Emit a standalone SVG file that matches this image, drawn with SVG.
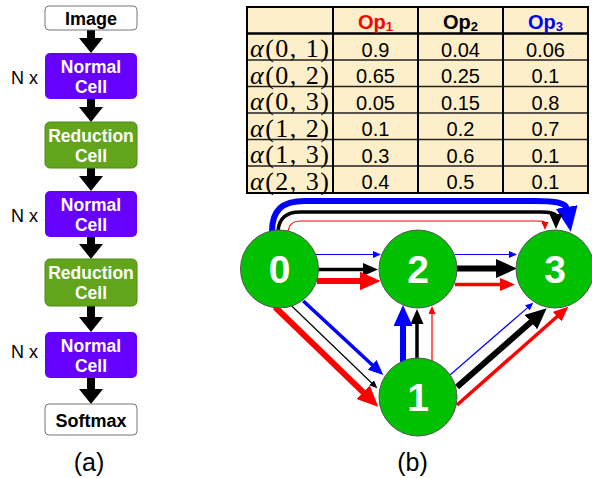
<svg xmlns="http://www.w3.org/2000/svg" width="592" height="478" viewBox="0 0 592 478">
<style>
.wt{fill:#fff;font-family:"Liberation Sans",Arial,sans-serif;font-weight:bold;font-size:17.5px;text-anchor:middle}
.bt{fill:#000;font-family:"Liberation Sans",Arial,sans-serif;font-weight:bold;font-size:18px;text-anchor:middle}
.nx{fill:#000;font-family:"Liberation Sans",Arial,sans-serif;font-size:18px}
.cap{fill:#000;font-family:"Liberation Sans",Arial,sans-serif;font-size:25px;text-anchor:middle}
.num{fill:#000;font-family:"Liberation Sans",Arial,sans-serif;font-size:20px;text-anchor:middle}
.hd{font-family:"Liberation Sans",Arial,sans-serif;font-weight:bold;font-size:20px;text-anchor:middle}
.al{fill:#000;font-family:"Liberation Serif","Times New Roman",serif;font-size:26px}
.node circle{fill:#00C000;stroke:#555;stroke-width:1}
.node text{fill:#fff;font-family:"Liberation Sans",Arial,sans-serif;font-weight:bold;font-size:39px;text-anchor:middle}
.e{fill:none}
.r{stroke:#FF0000}.k{stroke:#000}.b{stroke:#0000FF}
.L{stroke-width:6}.M{stroke-width:3.5}.S{stroke-width:1.2}
.blk{fill:#000}
</style>
<defs>
<marker id="rL" markerUnits="userSpaceOnUse" markerWidth="21" markerHeight="19" refX="2" refY="9.5" orient="auto"><path d="M0,0 L21,9.5 L0,19 z" fill="#FF0000"/></marker>
<marker id="kL" markerUnits="userSpaceOnUse" markerWidth="21" markerHeight="19" refX="2" refY="9.5" orient="auto"><path d="M0,0 L21,9.5 L0,19 z" fill="#000"/></marker>
<marker id="bL" markerUnits="userSpaceOnUse" markerWidth="21" markerHeight="19" refX="2" refY="9.5" orient="auto"><path d="M0,0 L21,9.5 L0,19 z" fill="#0000FF"/></marker>
<marker id="bXL" markerUnits="userSpaceOnUse" markerWidth="25" markerHeight="22" refX="2" refY="11" orient="auto"><path d="M0,0 L25,11 L0,22 z" fill="#0000FF"/></marker>
<marker id="rM" markerUnits="userSpaceOnUse" markerWidth="15" markerHeight="13" refX="2" refY="6.5" orient="auto"><path d="M0,0 L15,6.5 L0,13 z" fill="#FF0000"/></marker>
<marker id="kM" markerUnits="userSpaceOnUse" markerWidth="15" markerHeight="13" refX="2" refY="6.5" orient="auto"><path d="M0,0 L15,6.5 L0,13 z" fill="#000"/></marker>
<marker id="bM" markerUnits="userSpaceOnUse" markerWidth="15" markerHeight="13" refX="2" refY="6.5" orient="auto"><path d="M0,0 L15,6.5 L0,13 z" fill="#0000FF"/></marker>
<marker id="rS" markerUnits="userSpaceOnUse" markerWidth="8" markerHeight="7" refX="2" refY="3.5" orient="auto"><path d="M0,0 L8,3.5 L0,7 z" fill="#FF0000"/></marker>
<marker id="kS" markerUnits="userSpaceOnUse" markerWidth="8" markerHeight="7" refX="2" refY="3.5" orient="auto"><path d="M0,0 L8,3.5 L0,7 z" fill="#000"/></marker>
<marker id="bS" markerUnits="userSpaceOnUse" markerWidth="8" markerHeight="7" refX="2" refY="3.5" orient="auto"><path d="M0,0 L8,3.5 L0,7 z" fill="#0000FF"/></marker>
</defs>
<rect width="592" height="478" fill="#fff"/>

<!-- (a) panel -->
<g id="flow-arrows">
<polygon class="blk" points="87,30 95,30 95,38 103,38 91,53 79,38 87,38"/>
<polygon class="blk" points="87,99 95,99 95,107 103,107 91,122 79,107 87,107"/>
<polygon class="blk" points="87,168 95,168 95,176 103,176 91,191 79,176 87,176"/>
<polygon class="blk" points="87,237 95,237 95,244 103,244 91,259 79,244 87,244"/>
<polygon class="blk" points="87,306 95,306 95,317 103,317 91,332 79,317 87,317"/>
<polygon class="blk" points="87,378 95,378 95,389 103,389 91,404 79,389 87,389"/>
</g>
<g id="image"><rect x="45" y="6" width="92" height="24" rx="4" fill="#fff" stroke="#777"/><text class="bt" x="91" y="25">Image</text></g>
<g id="normal1"><rect x="45" y="53" width="92" height="46" rx="5" fill="#6600FF"/><text class="wt" x="91" y="73">Normal</text><text class="wt" x="91" y="93">Cell</text><text class="nx" x="11" y="84">N x</text></g>
<g id="reduction1"><rect x="45" y="122" width="92" height="46" rx="5" fill="#62A51C" stroke="#4E8A14"/><text class="wt" x="91" y="142">Reduction</text><text class="wt" x="91" y="162">Cell</text></g>
<g id="normal2"><rect x="45" y="191" width="92" height="46" rx="5" fill="#6600FF"/><text class="wt" x="91" y="211">Normal</text><text class="wt" x="91" y="231">Cell</text><text class="nx" x="11" y="222">N x</text></g>
<g id="reduction2"><rect x="45" y="259" width="92" height="47" rx="5" fill="#62A51C" stroke="#4E8A14"/><text class="wt" x="91" y="279">Reduction</text><text class="wt" x="91" y="299">Cell</text></g>
<g id="normal3"><rect x="45" y="332" width="92" height="46" rx="5" fill="#6600FF"/><text class="wt" x="91" y="352">Normal</text><text class="wt" x="91" y="372">Cell</text><text class="nx" x="11" y="358">N x</text></g>
<g id="softmax"><rect x="45" y="404" width="92" height="31" rx="4" fill="#fff" stroke="#777"/><text class="bt" x="91" y="427">Softmax</text></g>
<text class="cap" x="89" y="471">(a)</text>

<!-- table -->
<g id="table">
<rect x="247" y="7" width="341" height="186" fill="#FDEFC9"/>
<g stroke="#222" stroke-width="1.5">
<line x1="247" y1="60" x2="588" y2="60"/>
<line x1="247" y1="86.5" x2="588" y2="86.5"/>
<line x1="247" y1="113" x2="588" y2="113"/>
<line x1="247" y1="139.5" x2="588" y2="139.5"/>
<line x1="247" y1="166" x2="588" y2="166"/>
</g>
<g stroke="#000" stroke-width="2" fill="none">
<line x1="247" y1="33.5" x2="588" y2="33.5" stroke-width="2.5"/>
<line x1="333" y1="7" x2="333" y2="193"/>
<line x1="418" y1="7" x2="418" y2="193"/>
<line x1="503" y1="7" x2="503" y2="193"/>
<rect x="247" y="7" width="341" height="186"/>
</g>
<text class="hd" x="375.5" y="29" fill="#FF0000">Op<tspan font-size="13" dy="2">1</tspan></text>
<text class="hd" x="460.5" y="29" fill="#000">Op<tspan font-size="13" dy="2">2</tspan></text>
<text class="hd" x="545.5" y="29" fill="#0000FF">Op<tspan font-size="13" dy="2">3</tspan></text>
<text class="al" x="250" y="57" textLength="79" lengthAdjust="spacing"><tspan font-style="italic">α</tspan>(0, 1)</text>
<text class="al" x="250" y="83.5" textLength="79" lengthAdjust="spacing"><tspan font-style="italic">α</tspan>(0, 2)</text>
<text class="al" x="250" y="110" textLength="79" lengthAdjust="spacing"><tspan font-style="italic">α</tspan>(0, 3)</text>
<text class="al" x="250" y="136.5" textLength="79" lengthAdjust="spacing"><tspan font-style="italic">α</tspan>(1, 2)</text>
<text class="al" x="250" y="163" textLength="79" lengthAdjust="spacing"><tspan font-style="italic">α</tspan>(1, 3)</text>
<text class="al" x="250" y="189.5" textLength="79" lengthAdjust="spacing"><tspan font-style="italic">α</tspan>(2, 3)</text>
<text class="num" x="375.5" y="56.5">0.9</text><text class="num" x="460.5" y="56.5">0.04</text><text class="num" x="545.5" y="56.5">0.06</text>
<text class="num" x="375.5" y="83">0.65</text><text class="num" x="460.5" y="83">0.25</text><text class="num" x="545.5" y="83">0.1</text>
<text class="num" x="375.5" y="109.5">0.05</text><text class="num" x="460.5" y="109.5">0.15</text><text class="num" x="545.5" y="109.5">0.8</text>
<text class="num" x="375.5" y="136">0.1</text><text class="num" x="460.5" y="136">0.2</text><text class="num" x="545.5" y="136">0.7</text>
<text class="num" x="375.5" y="162.5">0.3</text><text class="num" x="460.5" y="162.5">0.6</text><text class="num" x="545.5" y="162.5">0.1</text>
<text class="num" x="375.5" y="189">0.4</text><text class="num" x="460.5" y="189">0.5</text><text class="num" x="545.5" y="189">0.1</text>
</g>

<!-- connectors -->
<g id="connectors">
<path class="e b L" d="M272,232 C272,210 282,201 305,201 L535,201 C556,201 566,203 567,209" marker-end="url(#bXL)"/>
<path class="e k M" d="M278,231 C279,218 287,212 300,212 L540,212 C551,212 556,214 556,216" marker-end="url(#kM)"/>
<path class="e r S" d="M288,231 C289,224 293,221 300,221 L538,221 C543,221 545,221 545,224" marker-end="url(#rS)"/>

<line class="e b S" x1="316" y1="254.5" x2="375" y2="254.5" marker-end="url(#bS)"/>
<line class="e k M" x1="318" y1="269.5" x2="365" y2="269.5" marker-end="url(#kM)"/>
<line class="e r L" x1="317" y1="281" x2="361.5" y2="281" marker-end="url(#rL)"/>

<line class="e b S" x1="455" y1="254.5" x2="511" y2="254.5" marker-end="url(#bS)"/>
<line class="e k L" x1="457" y1="268.5" x2="498" y2="268.5" marker-end="url(#kL)"/>
<line class="e r M" x1="455" y1="284.5" x2="502" y2="284.5" marker-end="url(#rM)"/>

<line class="e b L" x1="403" y1="362" x2="403" y2="324" marker-end="url(#bL)"/>
<line class="e k M" x1="417" y1="359" x2="417" y2="322" marker-end="url(#kM)"/>
<line class="e r S" x1="432" y1="362" x2="432" y2="312" marker-end="url(#rS)"/>

<line class="e b S" x1="450" y1="375" x2="528.8" y2="306.6" marker-end="url(#bS)"/>
<line class="e k L" x1="457" y1="387" x2="532.4" y2="320.8" marker-end="url(#kL)"/>
<line class="e r M" x1="457" y1="405" x2="558.6" y2="315.3" marker-end="url(#rM)"/>

<line class="e r L" x1="275" y1="307" x2="364.6" y2="393.6" marker-end="url(#rL)"/>
<line class="e k S" x1="291.7" y1="306" x2="373" y2="384.2" marker-end="url(#kS)"/>
<line class="e b M" x1="303.3" y1="301" x2="373.7" y2="366.2" marker-end="url(#bM)"/>
</g>

<!-- nodes -->
<g id="node0" class="node"><circle cx="279.5" cy="269" r="39"/><text x="279.5" y="283">0</text></g>
<g id="node2" class="node"><circle cx="418" cy="269" r="39"/><text x="418" y="283">2</text></g>
<g id="node3" class="node"><circle cx="555" cy="269" r="39"/><text x="555" y="283">3</text></g>
<g id="node1" class="node"><circle cx="418" cy="397" r="39"/><text x="418" y="411">1</text></g>

<text class="cap" x="412.5" y="471">(b)</text>
</svg>
